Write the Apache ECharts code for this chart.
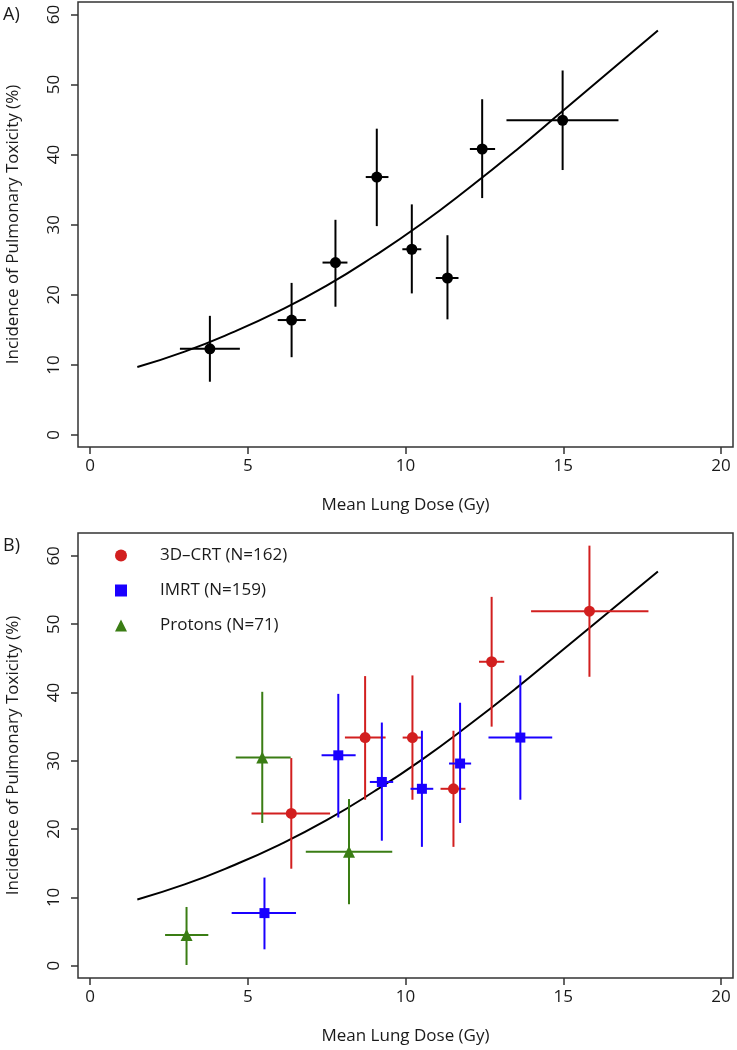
<!DOCTYPE html>
<html>
<head>
<meta charset="utf-8">
<script src="https://cdn.jsdelivr.net/npm/echarts@6/dist/echarts.min.js"></script>
<style>
  html, body { margin: 0; padding: 0; background: #fff; }
  #chart { width: 737px; height: 1050px; }
</style>
</head>
<body>
<div id="chart"></div>
<script>
// panel A: all patients
var allDose = [3.80, 6.39, 7.78, 9.09, 10.20, 11.33, 12.43, 14.98];
var allDoseLo = [2.85, 5.95, 7.37, 8.74, 9.90, 10.96, 12.04, 13.20];
var allDoseHi = [4.75, 6.84, 8.16, 9.46, 10.50, 11.68, 12.84, 16.75];
var allRate = [12.3, 16.4, 24.6, 36.8, 26.5, 22.4, 40.8, 44.9];
var allRateLo = [7.6, 11.1, 18.3, 29.8, 20.2, 16.5, 33.8, 37.8];
var allRateHi = [17.0, 21.7, 30.7, 43.7, 32.9, 28.5, 47.9, 52.0];

// panel B: by technique
var crtDose = [6.38, 8.72, 10.22, 11.52, 12.73, 15.83];
var crtDoseLo = [5.12, 8.08, 9.91, 11.11, 12.33, 13.98];
var crtDoseHi = [7.61, 9.37, 10.50, 11.90, 13.13, 17.70];
var crtRate = [22.3, 33.4, 33.4, 25.9, 44.5, 51.9];
var crtRateLo = [14.2, 24.3, 24.3, 17.4, 35.0, 42.3];
var crtRateHi = [30.4, 42.4, 42.5, 34.4, 54.0, 61.5];

var imrtDose = [5.53, 7.87, 9.25, 10.52, 11.73, 13.64];
var imrtDoseLo = [4.49, 7.34, 8.87, 10.16, 11.38, 12.63];
var imrtDoseHi = [6.53, 8.42, 9.61, 10.88, 12.08, 14.65];
var imrtRate = [7.7, 30.8, 26.9, 25.9, 29.6, 33.4];
var imrtRateLo = [2.4, 21.7, 18.3, 17.4, 20.9, 24.3];
var imrtRateHi = [12.9, 39.8, 35.6, 34.4, 38.5, 42.5];

var protDose = [3.06, 5.46, 8.21];
var protDoseLo = [2.38, 4.62, 6.84];
var protDoseHi = [3.75, 6.36, 9.58];
var protRate = [4.5, 30.5, 16.7];
var protRateLo = [0.1, 20.9, 9.0];
var protRateHi = [8.6, 40.1, 24.4];

// fitted curve (same in both panels)
var fitDose = [1.5, 3, 4.5, 6, 7.5, 9, 10.5, 12, 13.5, 15, 16.5, 18];
var fitRate = [9.7, 11.9, 14.6, 17.7, 21.3, 25.5, 30.1, 35.2, 40.6, 46.3, 52.0, 57.7];

var xTicks = [0, 5, 10, 15, 20];
var yTicks = [0, 10, 20, 30, 40, 50, 60];

var labels = ['3D\u2013CRT (N=162)', 'IMRT (N=159)', 'Protons (N=71)'];

var FONT = '"Open Sans", "DejaVu Sans", sans-serif';
var INK = '#1a1a1a';

function rows(d, dl, dh, r, rl, rh) {
    return d.map(function (v, i) { return [v, r[i], dl[i], dh[i], rl[i], rh[i]]; });
}

function errBars(color) {
    return function (params, api) {
        var x = api.value(0), y = api.value(1);
        var a = api.coord([api.value(2), y]), b = api.coord([api.value(3), y]);
        var c = api.coord([x, api.value(4)]), d = api.coord([x, api.value(5)]);
        var st = { stroke: color, lineWidth: 2 };
        return {
            type: 'group',
            children: [
                { type: 'line', shape: { x1: a[0], y1: a[1], x2: b[0], y2: b[1] }, style: st },
                { type: 'line', shape: { x1: c[0], y1: c[1], x2: d[0], y2: d[1] }, style: st }
            ]
        };
    };
}

function xAx(idx, min, max) {
    return {
        type: 'value', gridIndex: idx, min: min, max: max,
        name: 'Mean Lung Dose (Gy)', nameLocation: 'middle', nameGap: 50,
        nameTextStyle: { fontFamily: FONT, fontSize: 17, color: INK },
        axisLine: { show: false, onZero: false },
        axisTick: { show: true, inside: false, length: 7, customValues: xTicks, lineStyle: { color: '#333', width: 1.5 } },
        axisLabel: { customValues: xTicks, margin: 11, fontFamily: FONT, fontSize: 17, color: INK },
        splitLine: { show: false }
    };
}

function yAx(idx, min, max) {
    return {
        type: 'value', gridIndex: idx, min: min, max: max,
        name: 'Incidence of Pulmonary Toxicity (%)', nameLocation: 'middle', nameGap: 56,
        nameTextStyle: { fontFamily: FONT, fontSize: 17, color: INK },
        axisLine: { show: false, onZero: false },
        axisTick: { show: true, inside: false, length: 7, customValues: yTicks, lineStyle: { color: '#333', width: 1.5 } },
        axisLabel: { customValues: yTicks, rotate: 90, margin: 15, fontFamily: FONT, fontSize: 17, color: INK },
        splitLine: { show: false }
    };
}

function fitLine(idx) {
    return {
        type: 'line', xAxisIndex: idx, yAxisIndex: idx, smooth: true, showSymbol: false, silent: true,
        data: fitDose.map(function (v, i) { return [v, fitRate[i]]; }),
        lineStyle: { color: '#000', width: 2 }, z: 2
    };
}

function errSeries(idx, data, color) {
    return {
        type: 'custom', xAxisIndex: idx, yAxisIndex: idx, renderItem: errBars(color),
        encode: { x: [0, 2, 3], y: [1, 4, 5] }, data: data, z: 3, silent: true
    };
}

function pts(idx, name, data, color, symbol, size) {
    return {
        type: 'scatter', name: name, xAxisIndex: idx, yAxisIndex: idx,
        symbol: symbol, symbolSize: size, data: data.map(function (r) { return [r[0], r[1]]; }),
        itemStyle: { color: color, opacity: 1 }, z: 4
    };
}

var allRows = rows(allDose, allDoseLo, allDoseHi, allRate, allRateLo, allRateHi);
var crtRows = rows(crtDose, crtDoseLo, crtDoseHi, crtRate, crtRateLo, crtRateHi);
var imrtRows = rows(imrtDose, imrtDoseLo, imrtDoseHi, imrtRate, imrtRateLo, imrtRateHi);
var protRows = rows(protDose, protDoseLo, protDoseHi, protRate, protRateLo, protRateHi);

var RED = '#d21f1f', BLUE = '#1a00ff', GREEN = '#3a7d14';

var chart = echarts.init(document.getElementById('chart'));
chart.setOption({
    animation: false,
    backgroundColor: '#fff',
    grid: [
        { left: 78, top: 2, width: 655, height: 445, show: true, borderColor: '#333', borderWidth: 1.5, outerBoundsMode: 'none' },
        { left: 78, top: 533, width: 655, height: 445, show: true, borderColor: '#333', borderWidth: 1.5, outerBoundsMode: 'none' }
    ],
    xAxis: [xAx(0, -0.38, 20.38), xAx(1, -0.38, 20.38)],
    yAxis: [yAx(0, -1.71, 61.77), yAx(1, -1.80, 63.35)],
    legend: {
        orient: 'vertical', left: 115, top: 547, padding: 0,
        itemWidth: 12, itemHeight: 12, itemGap: 18,
        data: labels,
        textStyle: { fontFamily: FONT, fontSize: 17, color: INK, lineHeight: 16, padding: [0, 0, 0, 28] }
    },
    graphic: [
        { type: 'text', left: 3, top: 6, style: { text: 'A)', fontFamily: FONT, fontSize: 18, fill: INK } },
        { type: 'text', left: 3, top: 537, style: { text: 'B)', fontFamily: FONT, fontSize: 18, fill: INK } }
    ],
    series: [
        fitLine(0),
        errSeries(0, allRows, '#000'),
        pts(0, 'All', allRows, '#000', 'circle', 11),
        fitLine(1),
        errSeries(1, crtRows, RED),
        errSeries(1, imrtRows, BLUE),
        errSeries(1, protRows, GREEN),
        pts(1, labels[0], crtRows, RED, 'circle', 11),
        pts(1, labels[1], imrtRows, BLUE, 'rect', 10),
        pts(1, labels[2], protRows, GREEN, 'triangle', 12)
    ]
});
</script>
</body>
</html>
